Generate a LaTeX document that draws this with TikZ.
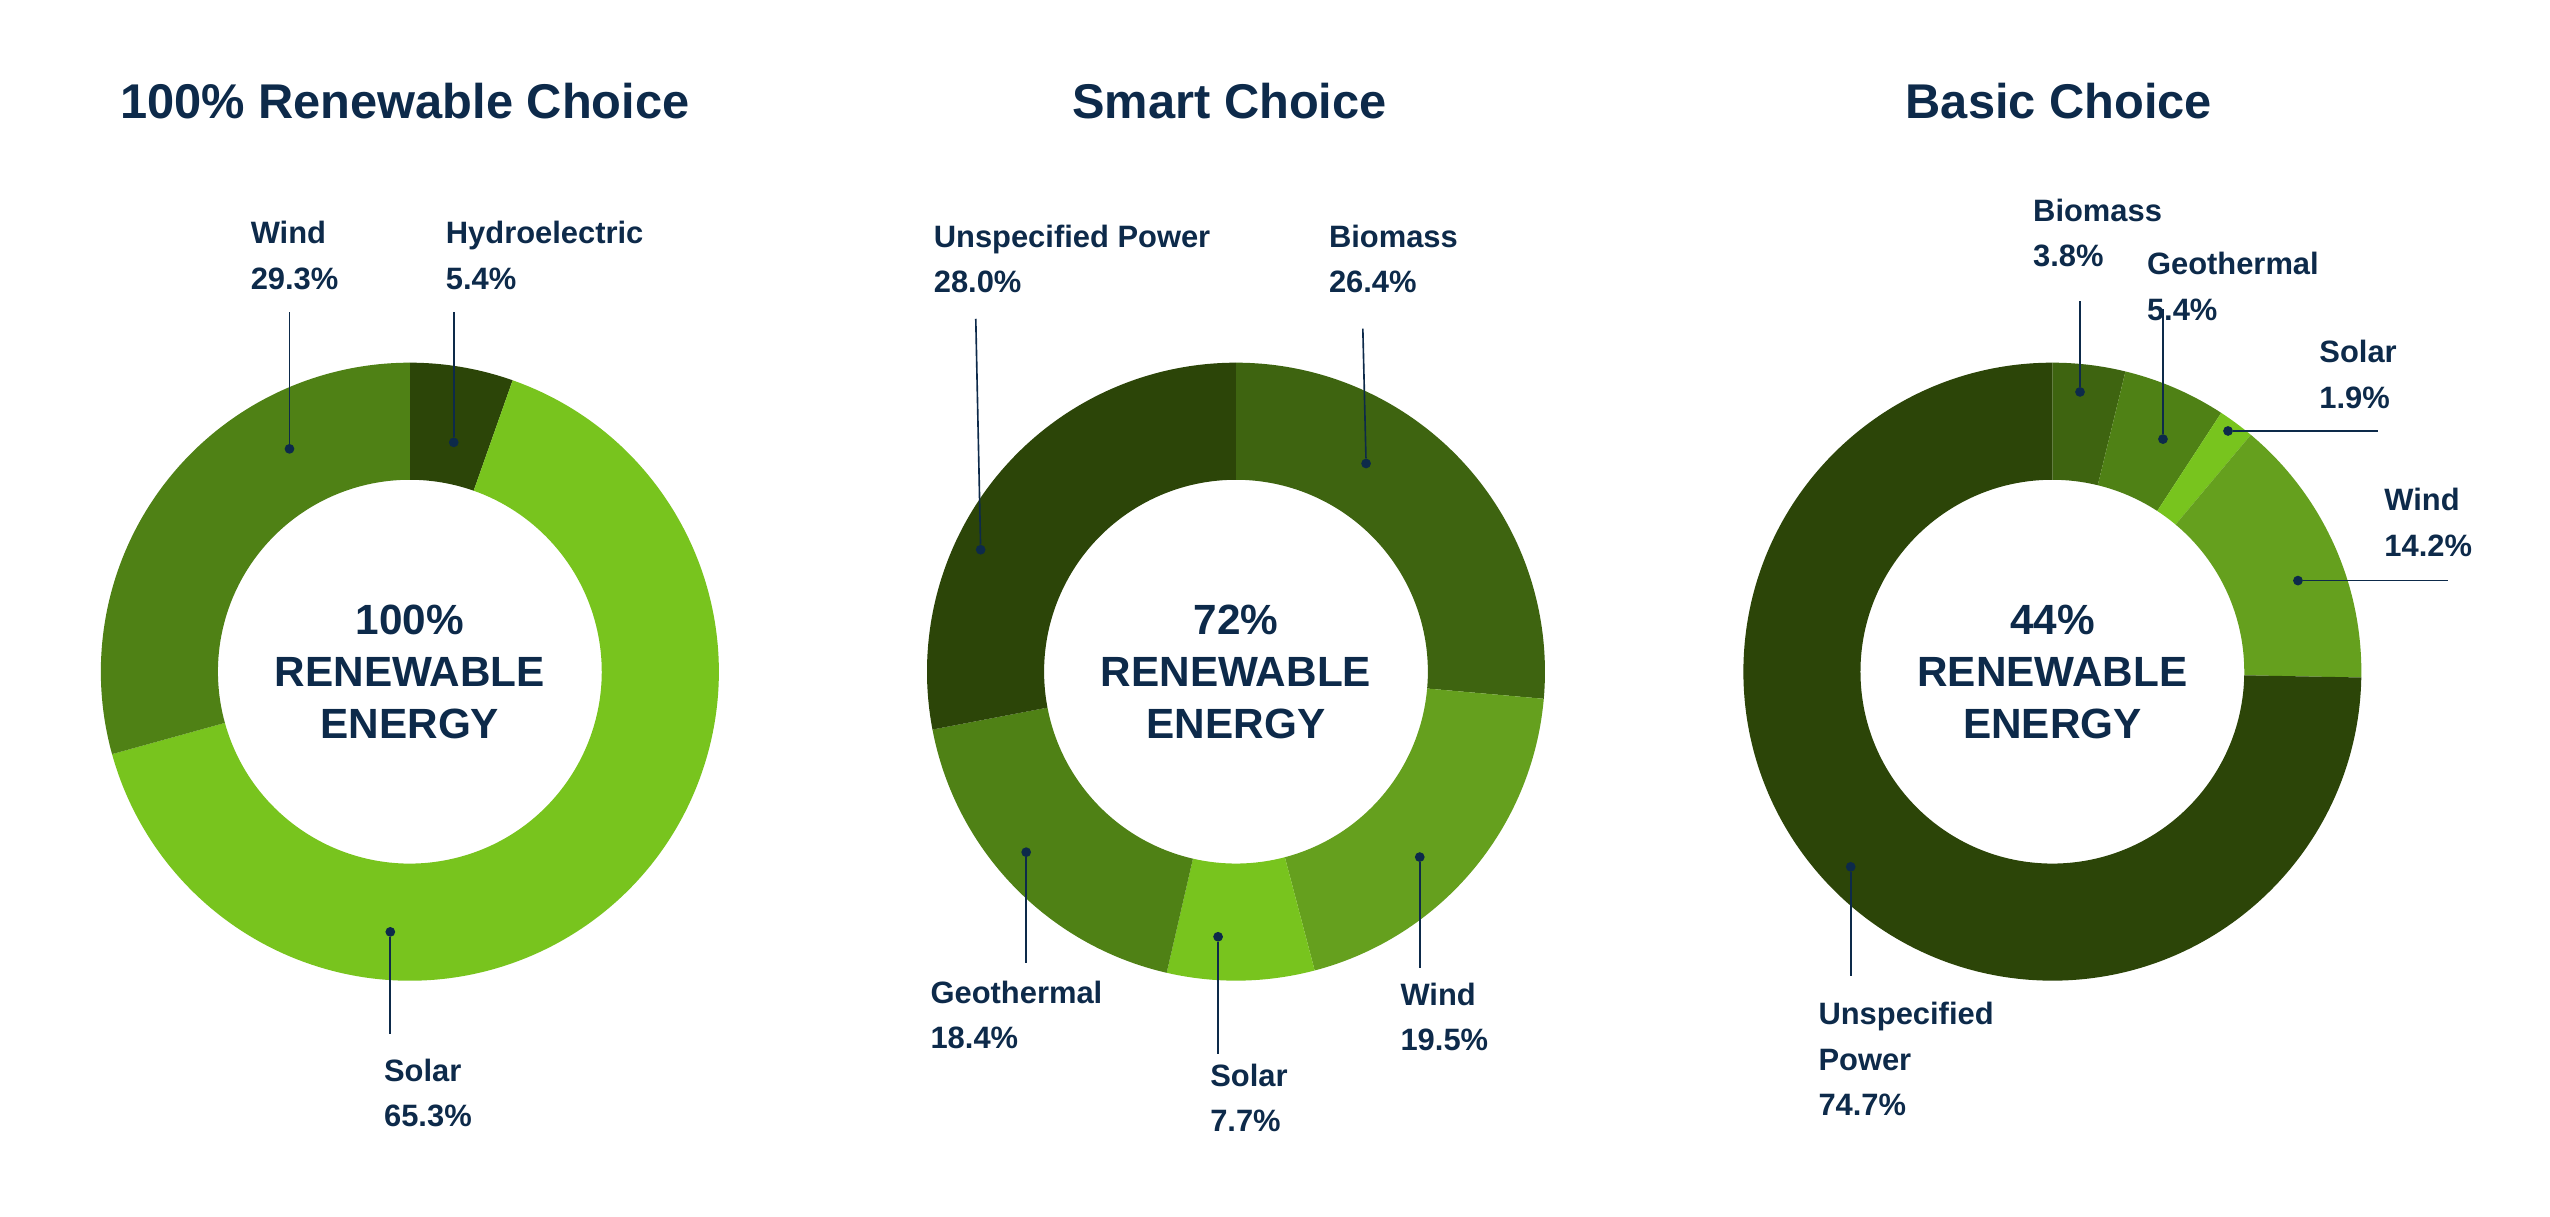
\documentclass[tikz,border=0pt]{standalone}
\usepackage{fontspec}
\setmainfont{Liberation Sans}
\usetikzlibrary{calc}
\definecolor{navy}{HTML}{0D2A4A}
\definecolor{gA}{HTML}{2C4508}
\definecolor{gB}{HTML}{3E6410}
\definecolor{gC}{HTML}{4F8115}
\definecolor{gD}{HTML}{65A01E}
\definecolor{gE}{HTML}{78C41E}
\newcommand{\myslice}[4]{% center, start pct, end pct, color
  \fill[#4] ($(#1)+({-90+3.6*#2}:190)$) arc[start angle={-90+3.6*#2}, end angle={-90+3.6*#3}, radius=190]
    -- ($(#1)+({-90+3.6*#3}:118)$) arc[start angle={-90+3.6*#3}, end angle={-90+3.6*#2}, radius=118] -- cycle;}
\begin{document}
\begin{tikzpicture}[x=1pt,y=-1pt,
  title/.style={font=\fontsize{30}{34}\selectfont\bfseries, text=navy, inner sep=0},
  lab/.style={font=\fontsize{19}{28}\selectfont\bfseries, text=navy, align=left, anchor=north west, inner sep=0},
  ctr/.style={font=\fontsize{26}{32}\selectfont\bfseries, text=navy, align=center, inner sep=0},
  dotc/.style={circle, fill=navy, inner sep=0, minimum size=6pt},
  lead/.style={navy, line width=1pt}]
\fill[white] (0,0) rectangle (1568,748);
\useasboundingbox (0,0) rectangle (1568,748);
\coordinate (c1) at (252,413);
\coordinate (c2) at (760,413);
\coordinate (c3) at (1262,413);
% chart 1
\myslice{c1}{0}{5.4}{gA}
\myslice{c1}{5.4}{70.7}{gE}
\myslice{c1}{70.7}{100}{gC}
% chart 2
\myslice{c2}{0}{26.4}{gB}
\myslice{c2}{26.4}{45.9}{gD}
\myslice{c2}{45.9}{53.6}{gE}
\myslice{c2}{53.6}{72.0}{gC}
\myslice{c2}{72.0}{100}{gA}
% chart 3
\myslice{c3}{0}{3.8}{gB}
\myslice{c3}{3.8}{9.2}{gC}
\myslice{c3}{9.2}{11.1}{gE}
\myslice{c3}{11.1}{25.3}{gD}
\myslice{c3}{25.3}{100}{gA}
% titles
\node[title] (t1) at (249,62) {100\% Renewable Choice};
\node[title] (t2) at (756,62) {Smart Choice};
\node[title] (t3) at (1266,62) {Basic Choice};
% centers
\node[ctr] (m1) at (c1) {100\%\\RENEWABLE\\ENERGY};
\node[ctr] (m2) at (c2) {72\%\\RENEWABLE\\ENERGY};
\node[ctr] (m3) at (c3) {44\%\\RENEWABLE\\ENERGY};
% chart 1 labels
\node[lab] (l1a) at (154,136) {Wind\\29.3\%};
\node[dotc] (d1a) at (178,276) {}; \coordinate (e1a) at (178,192);
\draw[lead] (d1a) -- (e1a);
\node[lab] (l1b) at (274,136) {Hydroelectric\\5.4\%};
\node[dotc] (d1b) at (279,272) {}; \coordinate (e1b) at (279,192);
\draw[lead] (d1b) -- (e1b);
\node[lab] (l1c) at (236,651) {Solar\\65.3\%};
\node[dotc] (d1c) at (240,573) {}; \coordinate (e1c) at (240,636);
\draw[lead] (d1c) -- (e1c);
% chart 2 labels
\node[lab] (l2a) at (574,138) {Unspecified Power\\28.0\%};
\node[dotc] (d2a) at (603,338) {}; \coordinate (e2a) at (600,196);
\draw[lead] (d2a) -- (e2a);
\node[lab] (l2b) at (817,138) {Biomass\\26.4\%};
\node[dotc] (d2b) at (840,285) {}; \coordinate (e2b) at (838,202);
\draw[lead] (d2b) -- (e2b);
\node[lab] (l2c) at (572,603) {Geothermal\\18.4\%};
\node[dotc] (d2c) at (631,524) {}; \coordinate (e2c) at (631,592);
\draw[lead] (d2c) -- (e2c);
\node[lab] (l2d) at (744,654) {Solar\\7.7\%};
\node[dotc] (d2d) at (749,576) {}; \coordinate (e2d) at (749,648);
\draw[lead] (d2d) -- (e2d);
\node[lab] (l2e) at (861,604) {Wind\\19.5\%};
\node[dotc] (d2e) at (873,527) {}; \coordinate (e2e) at (873,595);
\draw[lead] (d2e) -- (e2e);
% chart 3 labels
\node[lab] (l3a) at (1250,122) {Biomass\\3.8\%};
\node[dotc] (d3a) at (1279,241) {}; \coordinate (e3a) at (1279,185);
\draw[lead] (d3a) -- (e3a);
\node[lab] (l3b) at (1320,155) {Geothermal\\5.4\%};
\node[dotc] (d3b) at (1330,270) {}; \coordinate (e3b) at (1330,190);
\draw[lead] (d3b) -- (e3b);
\node[lab] (l3c) at (1426,209) {Solar\\1.9\%};
\node[dotc] (d3c) at (1370,265) {}; \coordinate (e3c) at (1462,265);
\draw[lead] (d3c) -- (e3c);
\node[lab] (l3d) at (1466,300) {Wind\\14.2\%};
\node[dotc] (d3d) at (1413,357) {}; \coordinate (e3d) at (1505,357);
\draw[lead] (d3d) -- (e3d);
\node[lab] (l3e) at (1118,616) {Unspecified\\Power\\74.7\%};
\node[dotc] (d3e) at (1138,533) {}; \coordinate (e3e) at (1138,600);
\draw[lead] (d3e) -- (e3e);
\end{tikzpicture}
\end{document}
